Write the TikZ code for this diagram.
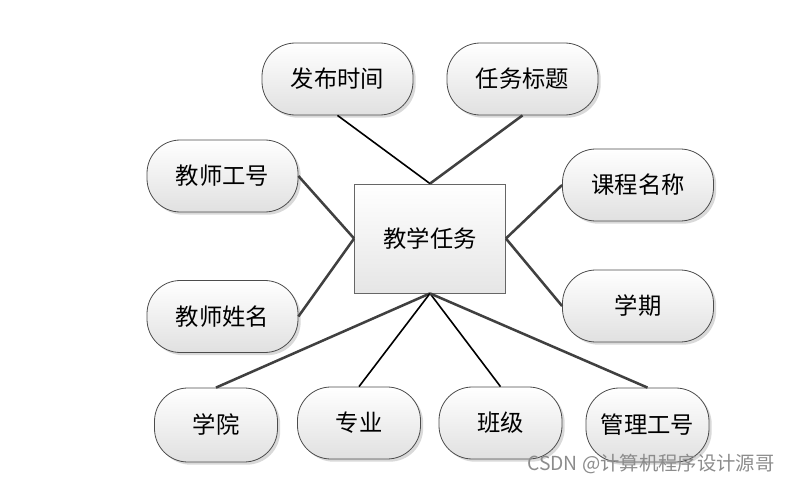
\documentclass[tikz,border=0pt]{standalone}
\usepackage{fontspec}
\newfontfamily\cjk{Noto Sans CJK SC}
\usetikzlibrary{shadows}
\begin{document}
\begin{tikzpicture}[x=0.75pt,y=-0.75pt,
  attr/.style={draw=black!70,line width=0.6pt,rounded corners=25pt,
    top color=white,bottom color=black!12,
    drop shadow={shadow xshift=2pt,shadow yshift=-2pt,opacity=0.25,fill=black!60},
    minimum width=151*0.75pt,minimum height=72*0.75pt,inner sep=0pt,
    font=\cjk\fontsize{17.5}{20}\selectfont},
  attrs/.style={attr,minimum width=123*0.75pt},
  ent/.style={draw=black!60,line width=0.6pt,top color=white,bottom color=black!10,
    minimum width=151*0.75pt,minimum height=109*0.75pt,inner sep=0pt,
    font=\cjk\fontsize{17.5}{20}\selectfont},
  thin/.style={line width=1.2pt,black},
  thick/.style={line width=1.9pt,black!75}]
\useasboundingbox (0,0) rectangle (794,482);
\node[ent] (e) at (430,238.5) {教学任务};
\node[attr] (a1) at (337.5,79) {发布时间};
\node[attr] (a2) at (522.5,79) {任务标题};
\node[attr] (a3) at (222.5,176) {教师工号};
\node[attr] (a4) at (638,185) {课程名称};
\node[attr] (a5) at (222.5,316.5) {教师姓名};
\node[attr] (a6) at (638,306) {学期};
\node[attrs,minimum height=74*0.75pt] (b1) at (216,425) {学院};
\node[attrs] (b2) at (359,423) {专业};
\node[attrs] (b3) at (500.5,423) {班级};
\node[attrs,minimum height=74*0.75pt] (b4) at (647.5,425) {管理工号};
\draw[thin] (a1.south) -- (e.north);
\draw[thick] (a2.south) -- (e.north);
\draw[thick] (a3.east) -- (e.west);
\draw[thick] (a5.east) -- (e.west);
\draw[thick] (a4.west) -- (e.east);
\draw[thick] (a6.west) -- (e.east);
\draw[thick] (e.south) -- (b1.north);
\draw[thin] (e.south) -- (b2.north);
\draw[thin] (e.south) -- (b3.north);
\draw[thick] (e.south) -- (b4.north);
\node[anchor=west,text=black!45,font=\cjk\fontsize{14.5}{17}\selectfont,inner sep=0pt] (wm) at (527,464) {CSDN @计算机程序设计源哥};
\end{tikzpicture}
\end{document}
